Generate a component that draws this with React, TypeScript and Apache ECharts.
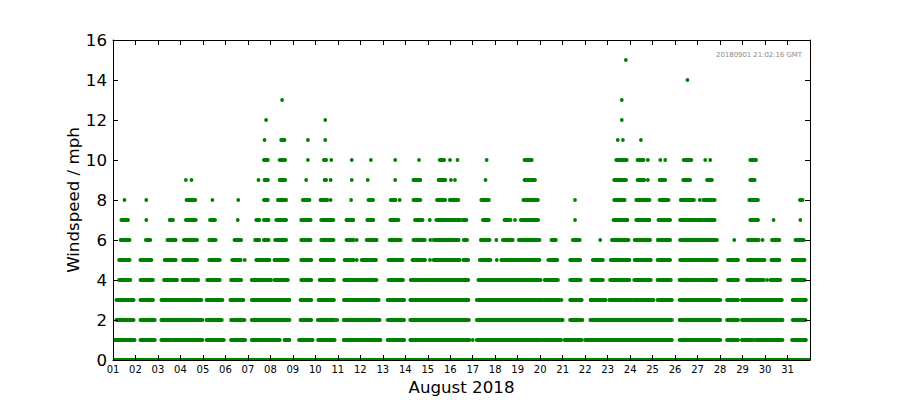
import React, { useEffect, useRef } from "react";
import * as echarts from "echarts";

// Day offsets from 1 Aug 2018 00:00 (0 = 01 Aug, 31 = 01 Sep)
const dayLabels = [
  "01", "02", "03", "04", "05", "06", "07", "08", "09", "10",
  "11", "12", "13", "14", "15", "16", "17", "18", "19", "20",
  "21", "22", "23", "24", "25", "26", "27", "28", "29", "30", "31",
];
const yTicks = [0, 2, 4, 6, 8, 10, 12, 14, 16];
const stampText = "20180901 21:02:16 GMT";
const xTitle = "August 2018";
const yTitle = "Windspeed / mph";

// Runs of readings at each wind speed: [startDay, endDay] (single readings have start = end)
const mph0: [number, number][] = [[0, 31]];
const mph1: [number, number][] = [
  [0, 0.96], [1.22, 1.86], [2.15, 2.6], [2.67, 3.98], [4.16, 4.93], [5.25, 5.88],
  [6.17, 7.42], [7.63, 7.85], [8.27, 8.88], [9.12, 9.86], [10.26, 11.9], [12.21, 12.95],
  [13.22, 15.85], [16.0, 16.0], [16.18, 19.05], [19.14, 19.93], [20.08, 20.85], [21.0, 24.86],
  [25.2, 27.01], [27.31, 27.8], [27.97, 28.42], [28.49, 28.49], [28.6, 29.78], [30.2, 30.61], [30.67, 30.82],
];
const mph2: [number, number][] = [
  [0.15, 0.92], [1.22, 1.86], [2.15, 3.98], [4.16, 4.84], [5.25, 5.85], [6.17, 7.85],
  [8.34, 8.82], [9.11, 9.86], [9.97, 9.97], [10.26, 11.86], [12.21, 12.95], [13.22, 15.83],
  [16.18, 19.1], [19.16, 20.0], [20.33, 20.88], [21.23, 21.91], [21.96, 24.86], [25.2, 27.01],
  [27.31, 27.8], [27.97, 29.78], [30.23, 30.8],
];
const mph3: [number, number][] = [
  [0.15, 0.92], [1.22, 1.78], [2.15, 3.93], [4.16, 4.87], [5.22, 5.8], [6.17, 7.85],
  [8.34, 8.82], [9.14, 9.83], [10.27, 11.82], [12.21, 12.95], [13.22, 15.81], [16.18, 19.1],
  [19.18, 19.85], [19.95, 19.95], [20.33, 20.85], [21.24, 21.91], [22.07, 23.08], [23.15, 24.04],
  [24.22, 24.86], [25.2, 27.01], [27.31, 27.8], [27.97, 29.75], [30.23, 30.82],
];
const mph4: [number, number][] = [
  [0.27, 0.77], [1.22, 1.78], [2.27, 2.85], [3.09, 3.79], [4.19, 4.75], [5.25, 5.7],
  [6.17, 7.03], [7.18, 7.78], [8.37, 8.82], [9.19, 9.83], [10.28, 11.72], [12.25, 12.9],
  [13.24, 13.95], [14.03, 15.8], [16.25, 19.02], [19.2, 19.79], [20.33, 20.8], [21.28, 21.79],
  [22.11, 22.97], [23.18, 23.92], [24.22, 24.81], [25.2, 26.19], [26.27, 26.83], [27.35, 27.8],
  [28.2, 28.69], [28.75, 28.94], [29.09, 29.09], [29.24, 29.68], [30.23, 30.76],
];
const mph5: [number, number][] = [
  [0.27, 0.74], [1.22, 1.71], [2.3, 2.79], [3.12, 3.74], [4.28, 4.57], [4.63, 4.75],
  [5.3, 5.68], [5.86, 5.86], [6.37, 6.96], [7.18, 7.78], [8.37, 8.82], [9.23, 9.83],
  [10.3, 10.7], [10.84, 10.84], [11.06, 11.7], [12.25, 12.88], [13.32, 13.88], [14.1, 14.1],
  [14.26, 15.42], [15.58, 15.8], [16.31, 16.79], [17.07, 17.07], [17.27, 18.97], [19.36, 19.76],
  [20.33, 20.78], [21.34, 21.79], [22.14, 22.97], [23.2, 23.92], [24.22, 24.78], [25.22, 26.86],
  [27.35, 27.8], [28.24, 28.74], [28.79, 28.98], [29.28, 29.64], [30.23, 30.76],
];
const mph6: [number, number][] = [
  [0.34, 0.74], [1.46, 1.66], [2.42, 2.79], [3.15, 3.74], [4.28, 4.57], [5.4, 5.7],
  [6.32, 6.51], [6.71, 6.92], [7.21, 7.7], [8.37, 8.79], [9.26, 9.81], [10.38, 10.7],
  [10.84, 10.84], [11.28, 11.73], [12.3, 12.8], [13.36, 13.87], [14.11, 14.11], [14.26, 15.38],
  [15.6, 15.75], [16.36, 16.75], [17.05, 17.05], [17.34, 17.78], [18.05, 18.97], [19.5, 19.7],
  [20.45, 20.76], [21.67, 21.67], [22.19, 22.93], [23.2, 23.89], [24.23, 24.78], [25.22, 26.86],
  [27.63, 27.63], [28.24, 28.72], [28.89, 28.89], [29.31, 29.64], [30.35, 30.72],
];
const mph7: [number, number][] = [
  [0.37, 0.67], [1.48, 1.48], [2.52, 2.67], [3.24, 3.68], [4.31, 4.54], [5.55, 5.55],
  [6.37, 6.51], [6.71, 6.92], [7.26, 7.7], [8.37, 8.79], [9.26, 9.8], [10.38, 10.69],
  [11.31, 11.58], [12.33, 12.7], [13.43, 13.77], [14.09, 14.09], [14.38, 15.44], [15.55, 15.72],
  [16.45, 16.72], [17.41, 17.68], [17.88, 17.88], [18.14, 18.91], [20.55, 20.55], [22.26, 22.88],
  [23.27, 23.86], [24.26, 24.78], [25.22, 25.84], [25.9, 26.19], [26.27, 26.76], [28.34, 28.69],
  [29.38, 29.38], [30.57, 30.57],
];
const mph8: [number, number][] = [
  [0.51, 0.51], [1.48, 1.48], [3.27, 3.66], [4.42, 4.42], [5.57, 5.57], [6.71, 6.89],
  [7.33, 7.7], [8.44, 8.74], [9.23, 9.53], [9.68, 9.68], [10.59, 10.59], [11.36, 11.57],
  [12.35, 12.57], [12.75, 12.75], [13.36, 13.67], [14.41, 14.78], [14.98, 15.36], [16.38, 16.72],
  [18.25, 18.9], [20.55, 20.55], [22.29, 22.76], [23.27, 23.86], [24.31, 24.71], [25.25, 25.84],
  [26.1, 26.1], [26.26, 26.76], [28.3, 28.69], [30.55, 30.67],
];
const mph9: [number, number][] = [
  [3.24, 3.24], [3.49, 3.49], [6.47, 6.47], [6.74, 6.89], [7.41, 7.66], [8.59, 8.59],
  [9.41, 9.48], [9.68, 9.68], [10.62, 10.62], [11.33, 11.33], [12.55, 12.55], [13.36, 13.67],
  [14.48, 14.78], [15.03, 15.03], [15.21, 15.21], [16.57, 16.57], [18.3, 18.77], [22.29, 22.82],
  [23.33, 23.63], [23.79, 23.79], [24.31, 24.56], [25.36, 25.67], [26.42, 26.64], [28.34, 28.54],
];
const mph10: [number, number][] = [
  [6.71, 6.89], [7.41, 7.66], [8.67, 8.67], [9.38, 9.48], [9.71, 9.71], [10.62, 10.62],
  [11.47, 11.47], [12.55, 12.55], [13.61, 13.61], [14.53, 14.73], [14.99, 14.99], [15.32, 15.32],
  [16.62, 16.62], [18.3, 18.63], [22.38, 22.85], [23.33, 23.6], [23.79, 23.79], [24.34, 24.34],
  [24.56, 24.56], [25.38, 25.72], [26.34, 26.34], [26.56, 26.56], [28.34, 28.6],
];
const mph11: [number, number][] = [
  [6.74, 6.74], [7.48, 7.63], [8.67, 8.67], [9.44, 9.44], [22.45, 22.45], [22.68, 22.68], [23.48, 23.48],
];
const mph12: [number, number][] = [[6.81, 6.81], [9.44, 9.44], [22.63, 22.63]];
const mph13: [number, number][] = [[7.52, 7.52], [22.63, 22.63]];
const mph14: [number, number][] = [[25.55, 25.55]];
const mph15: [number, number][] = [[22.81, 22.81]];

const speedRuns: [number, [number, number][]][] = [
  [0, mph0], [1, mph1], [2, mph2], [3, mph3], [4, mph4], [5, mph5], [6, mph6], [7, mph7],
  [8, mph8], [9, mph9], [10, mph10], [11, mph11], [12, mph12], [13, mph13], [14, mph14], [15, mph15],
];

const GREEN = "#008000";
const FONT = "DejaVu Sans";
const R = 1.9;

export default function App() {
  const ref = useRef<HTMLDivElement>(null);

  useEffect(() => {
    if (!ref.current) return;
    const chart = echarts.init(ref.current, null, { renderer: "svg" });

    const data: number[][] = [];
    speedRuns.forEach(([speed, runs]) => {
      runs.forEach(([a, b]) => data.push([a, b, speed]));
    });

    const axisCommon = {
      type: "value" as const,
      axisLine: { show: true, onZero: false, lineStyle: { color: "#000", width: 1 } },
      axisTick: { show: true, inside: true, length: 5, lineStyle: { color: "#000", width: 1 } },
      splitLine: { show: false },
      z: 10,
    };

    chart.setOption({
      animation: false,
      backgroundColor: "#fff",
      grid: { left: 113, right: 90, top: 40, bottom: 40, containLabel: false, outerBoundsMode: "none" },
      xAxis: [
        {
          ...axisCommon,
          position: "bottom",
          min: 0,
          max: 31,
          interval: 1,
          axisLabel: {
            color: "#000",
            fontFamily: FONT,
            fontSize: 10,
            margin: 4,
            showMaxLabel: true,
            showMinLabel: true,
            formatter: (v: number) => dayLabels[Math.round(v)] ?? "",
          },
        },
        {
          ...axisCommon,
          position: "top",
          min: 0,
          max: 31,
          interval: 1,
          axisLabel: { show: false },
        },
      ],
      yAxis: [
        {
          ...axisCommon,
          position: "left",
          min: yTicks[0],
          max: yTicks[yTicks.length - 1],
          interval: 2,
          axisLabel: { color: "#000", fontFamily: FONT, fontSize: 16.67, margin: 6 },
        },
        {
          ...axisCommon,
          position: "right",
          min: yTicks[0],
          max: yTicks[yTicks.length - 1],
          interval: 2,
          axisLabel: { show: false },
        },
      ],
      series: [
        {
          type: "custom",
          xAxisIndex: 0,
          yAxisIndex: 0,
          clip: true,
          silent: true,
          encode: { x: [0, 1], y: 2 },
          data,
          renderItem: (_params: any, api: any) => {
            const p1 = api.coord([api.value(0), api.value(2)]);
            const p2 = api.coord([api.value(1), api.value(2)]);
            return {
              type: "rect",
              shape: { x: p1[0] - R, y: p1[1] - R, width: p2[0] - p1[0] + 2 * R, height: 2 * R, r: R },
              style: { fill: GREEN },
            };
          },
        },
      ],
      graphic: [
        {
          type: "text",
          x: 461.5,
          y: 387,
          style: { text: xTitle, fontFamily: FONT, fontSize: 16.67, fill: "#000", align: "center", verticalAlign: "middle" },
        },
        {
          type: "text",
          x: 73,
          y: 200,
          rotation: Math.PI / 2,
          style: { text: yTitle, fontFamily: FONT, fontSize: 16.67, fill: "#000", align: "center", verticalAlign: "middle" },
        },
        {
          type: "text",
          x: 802,
          y: 54.5,
          style: { text: stampText, fontFamily: FONT, fontSize: 6.9, fill: "#888", align: "right", verticalAlign: "middle" },
        },
      ],
    });

    return () => chart.dispose();
  }, []);

  return (
    <div
      ref={ref}
      style={{ position: "fixed", left: 0, top: 0, width: 900, height: 400, background: "#fff" }}
    />
  );
}
